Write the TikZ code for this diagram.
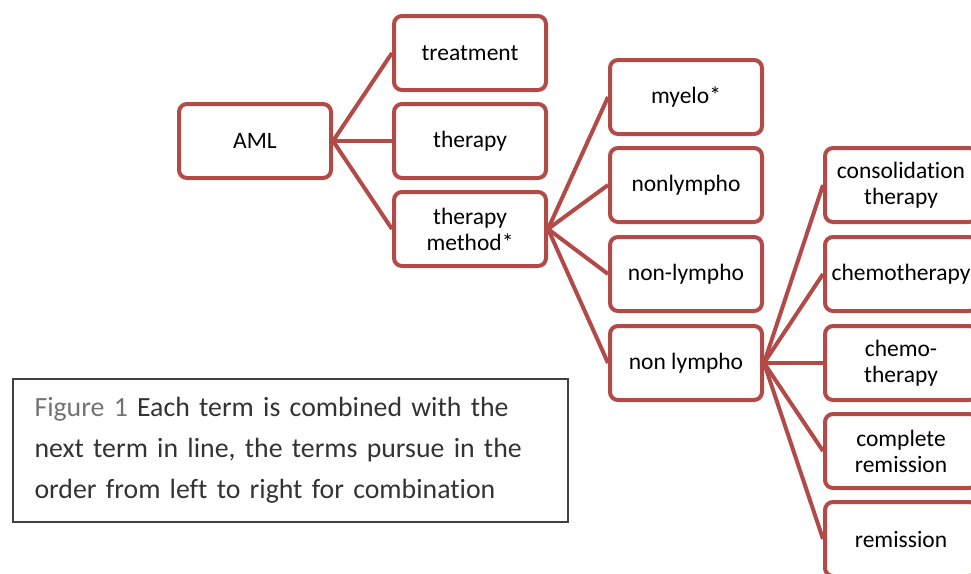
\documentclass[tikz,border=0pt]{standalone}
\usepackage{fontspec}
\setmainfont{Carlito}[Ligatures=NoCommon]
\usepackage{xcolor}
\usetikzlibrary{positioning}
\definecolor{termRed}{RGB}{178, 74, 71}
\definecolor{captionGray}{RGB}{64, 64, 64}

\begin{document}
\begin{tikzpicture}[
    x=1pt, y=-1pt,
    term/.style={
        rectangle,
        rounded corners=8pt,
        draw=termRed,
        line width=4pt,
        fill=white,
        minimum width=152pt,
        minimum height=74pt,
        align=center,
        inner sep=2pt,
        font=\fontsize{23.5}{26}\selectfont
    },
    link/.style={
        draw=termRed,
        line width=4pt
    },
    caption/.style={
        rectangle,
        draw=captionGray,
        line width=2pt,
        minimum width=555pt,
        minimum height=143pt,
        text width=512pt,
        inner xsep=21pt,
        align=left,
        text=black!80,
        font=\fontsize{27.8}{41}\selectfont
    }
]
    \useasboundingbox (0,0) rectangle (971,573);
    \clip (0,0) rectangle (971,573);

    % first column
    \node[term] (aml) at (255,141) {AML};

    % second column
    \node[term] (treatment) at (470,53) {treatment};
    \node[term] (therapy) at (470,141) {therapy};
    \node[term] (method) at (470,229) {therapy\\method*};

    % third column
    \node[term] (myelo) at (686,97) {myelo*};
    \node[term] (nonlympho) at (686,185) {nonlympho};
    \node[term] (nonhyph) at (686,274) {non-lympho};
    \node[term] (nonspace) at (686,363) {non lympho};

    % fourth column
    \node[term] (consol) at (901,185) {consolidation\\therapy};
    \node[term] (chemo) at (901,274) {chemotherapy};
    \node[term] (chemohyph) at (901,363) {chemo-\\therapy};
    \node[term] (complete) at (901,451) {complete\\remission};
    \node[term] (remission) at (901,539) {remission};

    % connectors
    \foreach \t in {treatment, therapy, method}
        \draw[link] (aml.east) -- (\t.west);
    \foreach \t in {myelo, nonlympho, nonhyph, nonspace}
        \draw[link] (method.east) -- (\t.west);
    \foreach \t in {consol, chemo, chemohyph, complete, remission}
        \draw[link] (nonspace.east) -- (\t.west);

    % caption
    \node[caption, anchor=north west] (note) at (12,378)
        {\textcolor{black!55}{Figure 1} Each term is combined with the\\
         next term in line, the terms pursue in the\\
         order from left to right for combination};

\end{tikzpicture}
\end{document}
